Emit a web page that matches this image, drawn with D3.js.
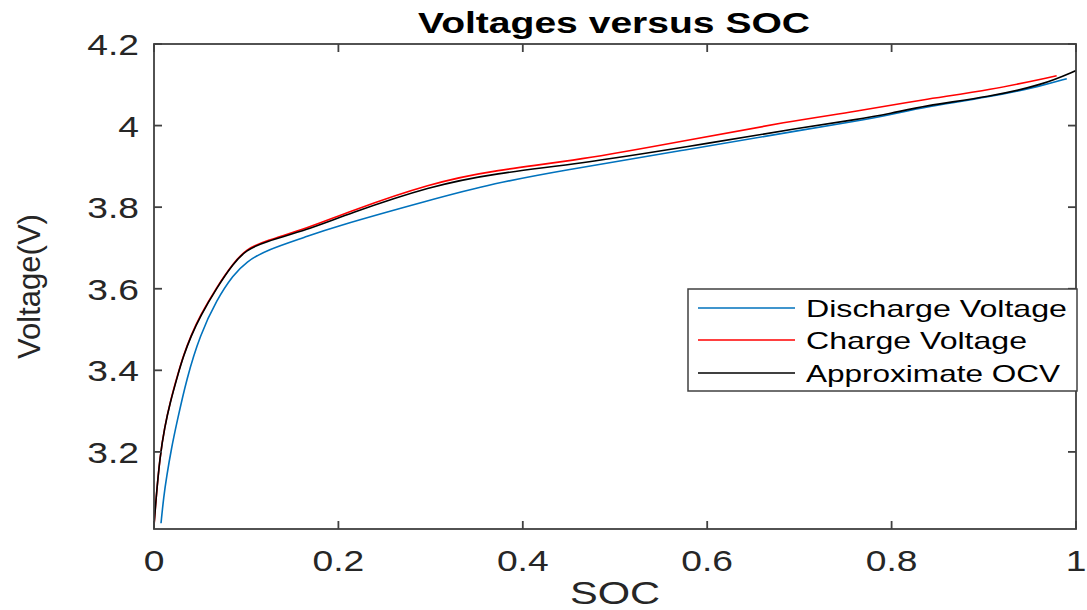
<!DOCTYPE html>
<html><head><meta charset="utf-8">
<script src="https://d3js.org/d3.v7.min.js"></script>
<style>body{margin:0;background:#fff}</style>
</head><body>
<svg id="c" width="1087" height="610"></svg>
<script>
// ---- data ----
const xTicks = [0, 0.2, 0.4, 0.6, 0.8, 1];
const xTickLabels = ["0", "0.2", "0.4", "0.6", "0.8", "1"];
const yTicks = [3.2, 3.4, 3.6, 3.8, 4.0, 4.2];
const yTickLabels = ["3.2", "3.4", "3.6", "3.8", "4", "4.2"];
const xDomain = [0, 1];
const yDomain = [3.011, 4.2];

const socDischarge = [0.0076, 0.0105, 0.0137, 0.019, 0.0246, 0.0354, 0.05, 0.068, 0.086, 0.1, 0.122, 0.166, 0.19, 0.3, 0.37, 0.44, 0.576, 0.71, 0.76, 0.8, 0.834, 0.907, 0.964, 0.99];
const vDischarge = [3.025, 3.09, 3.14, 3.21, 3.27, 3.38, 3.487, 3.573, 3.634, 3.666, 3.695, 3.728, 3.748, 3.818, 3.859, 3.889, 3.94, 3.992, 4.01, 4.027, 4.045, 4.07, 4.098, 4.115];

const socCharge = [0, 0.002, 0.0065, 0.0115, 0.0174, 0.026, 0.032, 0.04, 0.05, 0.068, 0.086, 0.1, 0.12, 0.166, 0.21, 0.3, 0.37, 0.46, 0.576, 0.69, 0.76, 0.834, 0.907, 0.979];
const vCharge = [3.017, 3.08, 3.19, 3.26, 3.322, 3.392, 3.437, 3.485, 3.534, 3.604, 3.663, 3.697, 3.717, 3.748, 3.788, 3.859, 3.891, 3.915, 3.963, 4.011, 4.034, 4.064, 4.087, 4.122];

const socOCV = [0, 0.002, 0.0065, 0.0115, 0.0174, 0.026, 0.032, 0.04, 0.05, 0.068, 0.086, 0.1, 0.12, 0.166, 0.21, 0.3, 0.37, 0.46, 0.576, 0.71, 0.76, 0.8, 0.834, 0.907, 0.964, 1.0];
const vOCV = [3.02, 3.08, 3.19, 3.26, 3.32, 3.39, 3.435, 3.483, 3.532, 3.602, 3.662, 3.695, 3.715, 3.744, 3.783, 3.852, 3.883, 3.906, 3.947, 3.998, 4.014, 4.030, 4.048, 4.071, 4.10, 4.135];

const seriesNames = ["Discharge Voltage", "Charge Voltage", "Approximate OCV"];
const seriesColors = ["#0072BD", "#FF0000", "#000000"];

// ---- layout ----
const L = 154, R = 1076, T = 44, B = 529;
const SX = 1.24; // horizontal stretch of the reference text
const axisColor = "#404040";
const svg = d3.select("#c");
const x = d3.scaleLinear().domain(xDomain).range([L, R]);
const y = d3.scaleLinear().domain(yDomain).range([B, T]);

function stretch(sel, factor) {
  sel.each(function () {
    const w = this.getComputedTextLength();
    d3.select(this).attr("textLength", w * factor).attr("lengthAdjust", "spacingAndGlyphs");
  });
}
function fitTo(sel, width) {
  sel.attr("textLength", width).attr("lengthAdjust", "spacingAndGlyphs");
}

svg.append("defs").append("clipPath").attr("id", "clip")
  .append("rect").attr("x", L).attr("y", T).attr("width", R - L).attr("height", B - T);

// curves
const series = [
  { soc: socDischarge, v: vDischarge },
  { soc: socCharge, v: vCharge },
  { soc: socOCV, v: vOCV }
];
const line = d3.line().x(d => x(d[0])).y(d => y(d[1])).curve(d3.curveBasis);
const g = svg.append("g").attr("clip-path", "url(#clip)");
series.forEach((s, i) => {
  g.append("path")
    .attr("d", line(s.soc.map((t, j) => [t, s.v[j]])))
    .attr("fill", "none").attr("stroke", seriesColors[i]).attr("stroke-width", 1.6)
    .attr("stroke-linejoin", "round");
});

// axes box
const ax = svg.append("g").attr("stroke", axisColor).attr("stroke-width", 1.8).attr("fill", "none");
ax.append("rect").attr("x", L).attr("y", T).attr("width", R - L).attr("height", B - T);
const tl = 8;
xTicks.forEach(t => {
  ax.append("line").attr("x1", x(t)).attr("x2", x(t)).attr("y1", B).attr("y2", B - tl);
  ax.append("line").attr("x1", x(t)).attr("x2", x(t)).attr("y1", T).attr("y2", T + tl);
});
yTicks.forEach(t => {
  ax.append("line").attr("x1", L).attr("x2", L + tl).attr("y1", y(t)).attr("y2", y(t));
  ax.append("line").attr("x1", R).attr("x2", R - tl).attr("y1", y(t)).attr("y2", y(t));
});

const font = "'Liberation Sans', Arial, Helvetica, sans-serif";
// tick labels
const xl = svg.append("g").selectAll("text").data(xTicks).join("text")
  .attr("x", d => x(d)).attr("y", 571).attr("text-anchor", "middle")
  .attr("font-family", font).attr("font-size", 30).attr("fill", "#262626")
  .text((d, i) => xTickLabels[i]);
stretch(xl, SX);
const yl = svg.append("g").selectAll("text").data(yTicks).join("text")
  .attr("x", 139).attr("y", d => y(d) + 11).attr("text-anchor", "end")
  .attr("font-family", font).attr("font-size", 30).attr("fill", "#262626")
  .text((d, i) => yTickLabels[i]);
stretch(yl, SX);

// axis labels
const xlab = svg.append("text").attr("x", (L + R) / 2).attr("y", 604).attr("text-anchor", "middle")
  .attr("font-family", font).attr("font-size", 32).attr("fill", "#262626").text("SOC");
stretch(xlab, 1.3);
svg.append("text").attr("transform", "translate(40," + ((T + B) / 2) + ") rotate(-90)")
  .attr("text-anchor", "middle")
  .attr("font-family", font).attr("font-size", 31).attr("fill", "#262626").text("Voltage(V)");

// title
const title = svg.append("text").attr("x", 614).attr("y", 33).attr("text-anchor", "middle")
  .attr("font-family", font).attr("font-size", 30).attr("font-weight", "bold").attr("fill", "#000")
  .text("Voltages versus SOC");
fitTo(title, 392);

// legend
const lg = svg.append("g");
lg.append("rect").attr("x", 688).attr("y", 289).attr("width", 389).attr("height", 102)
  .attr("fill", "#fff").attr("stroke", axisColor).attr("stroke-width", 1.5);
const legendRowsY = [308, 340, 373];
const legendWidths = [261, 221, 254];
seriesNames.forEach((n, i) => {
  lg.append("line").attr("x1", 698).attr("x2", 795).attr("y1", legendRowsY[i]).attr("y2", legendRowsY[i])
    .attr("stroke", seriesColors[i]).attr("stroke-width", 1.5);
  const t = lg.append("text").attr("x", 806).attr("y", legendRowsY[i] + 9)
    .attr("font-family", font).attr("font-size", 24).attr("fill", "#000").text(n);
  fitTo(t, legendWidths[i]);
});
</script>
</body></html>
